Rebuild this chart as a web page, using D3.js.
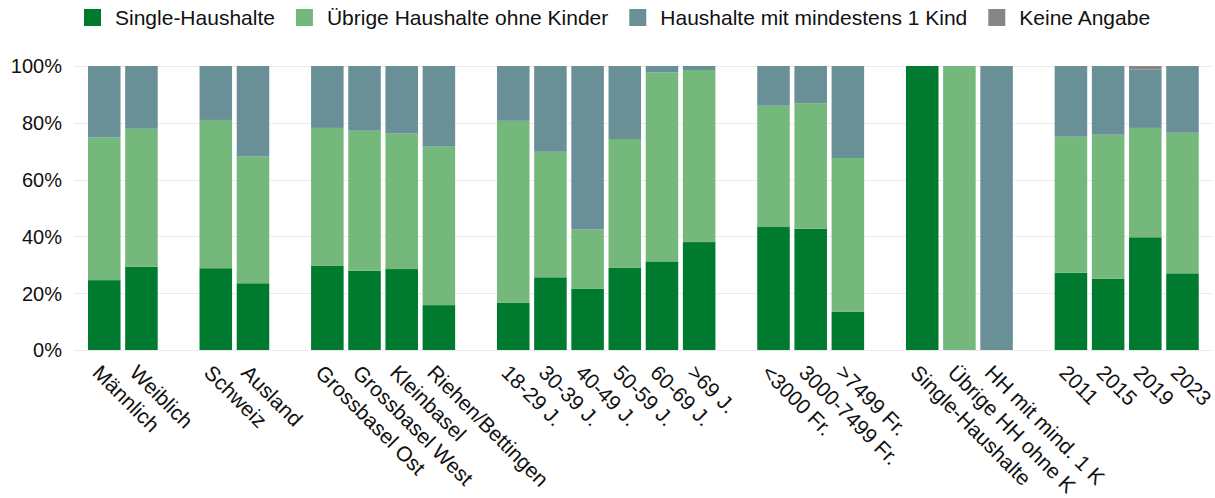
<!DOCTYPE html>
<html lang="de">
	<head>
		<meta charset="utf-8">
		<title>Haushaltsformen</title>
        <script type="text/javascript" src="https://cdn.jsdelivr.net/npm/d3@7"></script>
        <style>
            body { margin: 0; background: #fff; }
            text { font-family: "Liberation Sans", Arial, sans-serif; fill: #111; }
        </style>
	</head>
	<body>
        <script type="text/javascript">
            var w = 1215;
            var h = 498;

            // Kategorien, in Gruppen (zwischen den Gruppen eine leere Spalte)
            var categories = ["Männlich", "Weiblich", "Schweiz", "Ausland",
                "Grossbasel Ost", "Grossbasel West", "Kleinbasel", "Riehen/Bettingen",
                "18-29 J.", "30-39 J.", "40-49 J.", "50-59 J.", "60-69 J.", ">69 J.",
                "<3000 Fr.", "3000-7499 Fr.", ">7499 Fr.",
                "Single-Haushalte", "Übrige HH ohne K", "HH mit mind. 1 K",
                "2011", "2015", "2019", "2023"];
            var groupSizes = [2, 2, 4, 6, 3, 3, 4];

            var seriesNames = ["Single-Haushalte", "Übrige Haushalte ohne Kinder", "Haushalte mit mindestens 1 Kind", "Keine Angabe"];
            var colors = ["#007a2f", "#74b97b", "#6a9097", "#868686"];

            var single  = [24.6, 29.3, 28.8, 23.5, 29.6, 27.9, 28.5, 15.8, 16.7, 25.6, 21.5, 28.9, 31.2, 38.0, 43.3, 42.7, 13.4, 100, 0, 0, 27.2, 25.1, 39.7, 27.0];
            var uebrige = [50.2, 48.6, 52.2, 44.6, 48.6, 49.3, 47.7, 55.8, 64.0, 44.2, 20.9, 45.4, 66.5, 60.6, 42.7, 44.2, 54.2, 0, 100, 0, 47.9, 50.7, 38.5, 49.5];
            var kind    = [25.2, 22.1, 19.0, 31.9, 21.8, 22.8, 23.8, 28.4, 19.3, 30.2, 57.6, 25.7, 2.3, 1.4, 14.0, 13.1, 32.4, 0, 0, 100, 24.9, 24.2, 20.5, 23.5];
            var keine   = [0, 0, 0, 0, 0, 0, 0, 0, 0, 0, 0, 0, 0, 0, 0, 0, 0, 0, 0, 0, 0, 0, 1.3, 0];

            var yTicks = [0, 20, 40, 60, 80, 100];

            var data = categories.map(function(c, i) {
                return { cat: c, s0: single[i], s1: uebrige[i], s2: kind[i], s3: keine[i] };
            });

            // Spalten inkl. Lücken
            var slots = [];
            var k = 0;
            groupSizes.forEach(function(n, g) {
                if (g > 0) slots.push("gap" + g);
                for (var j = 0; j < n; j++) slots.push(categories[k++]);
            });

            var step = 37.18;
            var left = 88 - step * 0.0625;
            var x = d3.scaleBand()
                        .domain(slots)
                        .range([left, left + step * slots.length])
                        .paddingInner(0.125)
                        .paddingOuter(0.0625);

            var y = d3.scaleLinear()
                        .domain([0, 100])
                        .range([350, 66]);

            var svg = d3.select('body')
                        .append('svg')
                        .attr('width', w)
                        .attr('height', h);

            // Gitter
            svg.append('g')
                .selectAll('line')
                .data(yTicks)
                .enter()
                .append('line')
                .attr('x1', 74)
                .attr('x2', 1212)
                .attr('y1', function(d) { return Math.round(y(d)) + 0.5; })
                .attr('y2', function(d) { return Math.round(y(d)) + 0.5; })
                .attr('stroke', '#ebebeb')
                .attr('stroke-width', 1);

            // y-Achse
            svg.append('g')
                .selectAll('text')
                .data(yTicks)
                .enter()
                .append('text')
                .attr('x', 62)
                .attr('y', function(d) { return y(d); })
                .attr('dy', '0.37em')
                .attr('text-anchor', 'end')
                .style('font-size', '20px')
                .text(function(d) { return d + '%'; });

            var stack = d3.stack().keys(["s0", "s1", "s2", "s3"]);
            var layers = stack(data);

            svg.append('g')
                .selectAll('g')
                .data(layers)
                .enter()
                .append('g')
                .attr('fill', function(d, i) { return colors[i]; })
                .selectAll('rect')
                .data(function(d) { return d; })
                .enter()
                .append('rect')
                .attr('x', function(d) { return x(d.data.cat); })
                .attr('width', x.bandwidth())
                .attr('y', function(d) { return y(d[1]); })
                .attr('height', function(d) { return y(d[0]) - y(d[1]); });

            // x-Beschriftung, 45° gedreht
            svg.append('g')
                .selectAll('text')
                .data(categories)
                .enter()
                .append('text')
                .attr('transform', function(d) {
                    return 'translate(' + (x(d) + x.bandwidth() / 2 - 13) + ',374) rotate(45)';
                })
                .style('font-size', '21px')
                .text(function(d) { return d; });

            // Legende
            var legend = svg.append('g');
            var lx = 84;
            seriesNames.forEach(function(name, i) {
                legend.append('rect')
                    .attr('x', lx)
                    .attr('y', 9)
                    .attr('width', 17)
                    .attr('height', 17)
                    .attr('fill', colors[i]);
                var t = legend.append('text')
                    .attr('x', lx + 31)
                    .attr('y', 25)
                    .style('font-size', '21px')
                    .text(name);
                lx = lx + 31 + t.node().getComputedTextLength() + 21;
            });
		</script>
	</body>
</html>
